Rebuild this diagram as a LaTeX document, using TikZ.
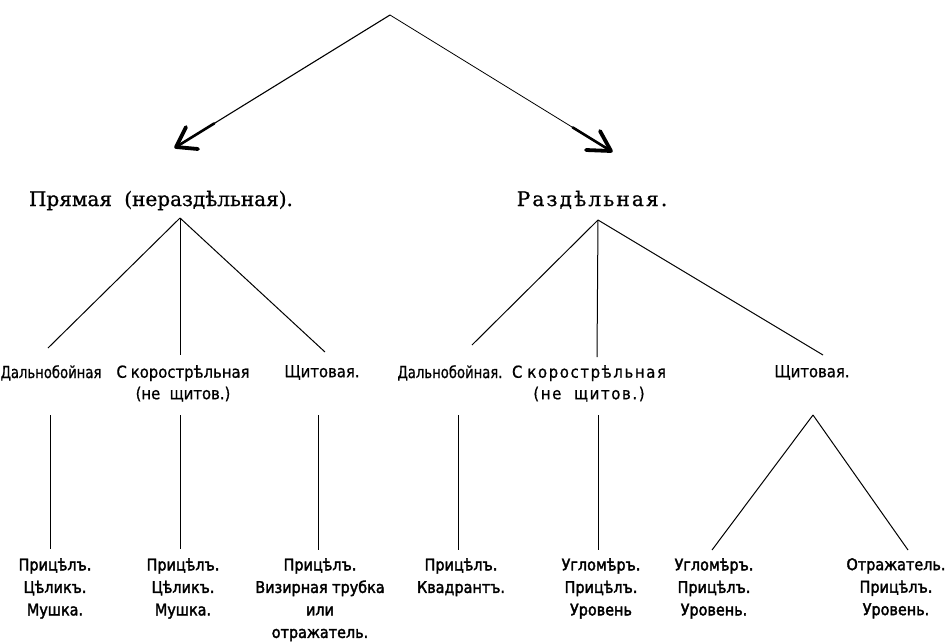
\documentclass[tikz,border=0pt]{standalone}
\usepackage{fontspec}
\setmainfont{DejaVu Sans}
\newfontfamily\titlefont[FakeBold=1]{DejaVu Serif}
\newfontfamily\titlefontwide[FakeBold=1,LetterSpace=11]{DejaVu Serif}
\newfontfamily\midfont[FakeStretch=0.9,FakeBold=0.8]{DejaVu Sans}
\newfontfamily\midfontnarrow[FakeStretch=0.8,FakeBold=0.8]{DejaVu Sans}
\newfontfamily\midfontwide[FakeStretch=0.9,FakeBold=0.8,LetterSpace=10]{DejaVu Sans}
\newfontfamily\leaffont[FakeStretch=0.9,FakeBold=2.2]{DejaVu Sans}
\usetikzlibrary{calc}
\begin{document}
\begin{tikzpicture}[x=1pt,y=-1pt,
  title/.style={font=\titlefont\fontsize{20}{24}\selectfont, inner sep=0pt, anchor=base},
  mid/.style={font=\midfont\fontsize{16.5}{21.5}\selectfont, inner sep=0pt, align=center, anchor=north},
  midnarrow/.style={mid, font=\midfontnarrow\fontsize{16.5}{21.5}\selectfont},
  leaf/.style={font=\leaffont\fontsize{16}{22.5}\selectfont, inner sep=0pt, align=center, anchor=north},
  link/.style={line width=1pt},
  shaft/.style={line width=2.6pt, line cap=round},
  barb/.style={line width=3.8pt, line cap=round, line join=round}
]
\useasboundingbox (0,0) rectangle (951,641);

% top
\coordinate (top) at (390,15);
\coordinate (tipL) at (176,147);
\coordinate (tipR) at (611,151);
\draw[line width=1.1pt] (top) -- (tipL);
\draw[shaft] ($(tipL)!45pt!(top)$) -- (tipL);
\draw[barb] ($(tipL)+(10,-20)$) -- (tipL) -- ($(tipL)+(22,2)$);
\draw[line width=0.8pt] (top) -- (tipR);
\draw[shaft] ($(tipR)!45pt!(top)$) -- (tipR);
\draw[barb] ($(tipR)+(-11,-20)$) -- (tipR) -- ($(tipR)+(-25,-1)$);

% titles
\node[title] (t1) at (161,206) {Прямая\kern6pt\ (нераздѣльная).};
\node[title,font=\titlefontwide\fontsize{20}{24}\selectfont] (t2) at (592,206) {Раздѣльная.};

% apexes
\coordinate (a1) at (180,218);
\coordinate (a2) at (598,220);
\coordinate (a3) at (813,415);

% level 2
\node[midnarrow] (m1) at (51,365) {Дальнобойная};
\node[mid] (m2) at (183,365) {С\kern4pt корострѣльная\\(не\ \ щитов.)};
\node[mid] (m3) at (322,365) {Щитовая.};
\node[midnarrow] (m4) at (450,365) {Дальнобойная.};
\node[mid,font=\midfontwide\fontsize{16.5}{21.5}\selectfont] (m5) at (589,365) {С\kern5pt корострѣльная\\(не\ \ щитов.)};
\node[mid] (m6) at (812,365) {Щитовая.};

% leaves
\node[leaf] (l1) at (55,558) {Прицѣлъ.\\Цѣликъ.\\Мушка.};
\node[leaf] (l2) at (183,558) {Прицѣлъ.\\Цѣликъ.\\Мушка.};
\node[leaf] (l3) at (320,558) {Прицѣлъ.\\Визирная трубка\\или\\отражатель.};
\node[leaf] (l4) at (461,558) {Прицѣлъ.\\Квадрантъ.};
\node[leaf] (l5) at (601,558) {Угломѣръ.\\Прицѣлъ.\\Уровень};
\node[leaf] (l6) at (714,558) {Угломѣръ.\\Прицѣлъ.\\Уровень.};
\node[leaf] (l7) at (896,558) {Отражатель.\\Прицѣлъ.\\Уровень.};

% branches from titles
\draw[link] (a1) -- ([xshift=-3pt,yshift=17pt]m1.north);
\draw[link] (a1) -- ([xshift=-3pt,yshift=10pt]m2.north);
\draw[link] (a1) -- ([xshift=3pt,yshift=13pt]m3.north);
\draw[link] (a2) -- ([xshift=22pt,yshift=20pt]m4.north);
\draw[link] (a2) -- ([xshift=8pt,yshift=8pt]m5.north);
\draw[link] (a2) -- ([xshift=11pt,yshift=10pt]m6.north);

% verticals to leaves
\coordinate (v1) at (50,415);
\coordinate (v2) at (180,415);
\coordinate (v3) at (318,415);
\coordinate (v4) at (458,415);
\coordinate (v5) at (598,415);
\draw[link] (v1) -- ([yshift=9pt]v1 |- l1.north);
\draw[link] (v2) -- ([yshift=9pt]v2 |- l2.north);
\draw[link] (v3) -- ([yshift=8pt]v3 |- l3.north);
\draw[link] (v4) -- ([yshift=8pt]v4 |- l4.north);
\draw[link] (v5) -- ([yshift=8pt]v5 |- l5.north);
\draw[link] (a3) -- ([xshift=-2pt,yshift=8pt]l6.north);
\draw[link] (a3) -- ([xshift=12pt,yshift=8pt]l7.north);
\end{tikzpicture}
\end{document}
